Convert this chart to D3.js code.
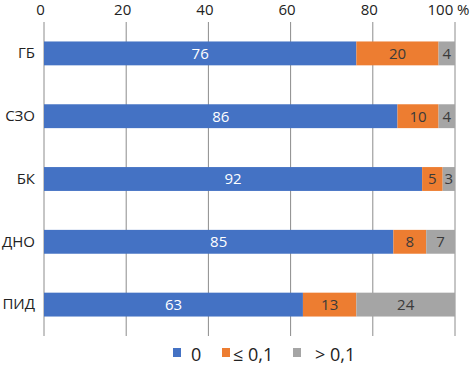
<!DOCTYPE html>
<html>
<head>
<meta charset="utf-8">
<script src="https://cdn.jsdelivr.net/npm/d3@7"></script>
<style>
  body { margin: 0; background: #fff; }
  text { font-family: "Open Sans", "Noto Sans", sans-serif; }
</style>
</head>
<body>
<div id="graf"></div>
<script>
// Datos
const categorias = ["ГБ", "СЗО", "БК", "ДНО", "ПИД"]
const serieCero = [76, 86, 92, 85, 63]
const serieMenor = [20, 10, 5, 8, 13]
const serieMayor = [4, 4, 3, 7, 24]
const series = ["0", "≤ 0,1", "> 0,1"]
const colores = ["#4472C4", "#ED7D31", "#A5A5A5"]
const ticks = [0, 20, 40, 60, 80, 100]

const anchoTotal = 470
const altoTotal = 365
const margins = { top: 22, right: 15, bottom: 29, left: 44 }
const ancho = anchoTotal - margins.left - margins.right
const alto = altoTotal - margins.top - margins.bottom

const svg = d3.select("#graf")
  .append("svg")
  .attr("width", anchoTotal)
  .attr("height", altoTotal)

const g = svg.append("g")
  .attr("transform", `translate(${margins.left}, ${margins.top})`)

// Escaladores
const x = d3.scaleLinear().domain([0, 100]).range([0, ancho])
const y = d3.scaleBand().domain(categorias).range([0, alto]).paddingInner(0.62).paddingOuter(0.31)

// rejilla
g.append("g")
  .selectAll("line")
  .data(ticks)
  .enter()
  .append("line")
  .attr("x1", (d) => x(d))
  .attr("x2", (d) => x(d))
  .attr("y1", 0)
  .attr("y2", alto)
  .attr("stroke", "#8c8c8c")
  .attr("stroke-width", 1)

// eje superior
const xAxis = d3.axisTop(x)
  .tickValues(ticks)
  .tickSize(0)
  .tickPadding(7.5)
  .tickFormat((d) => (d == 100 ? "100 %" : d))
const xAxisGroup = g.append("g").call(xAxis)
xAxisGroup.select(".domain").remove()
xAxisGroup.selectAll("text")
  .attr("font-size", 15)
  .attr("fill", "#222")
  .attr("font-family", "Liberation Sans")
  .attr("dx", (d) => (d == 100 ? -7 : -4))

// eje izquierdo
const yAxisGroup = g.append("g").call(d3.axisLeft(y).tickSize(0).tickPadding(9))
yAxisGroup.select(".domain").remove()
yAxisGroup.selectAll("text")
  .attr("font-size", 15)
  .attr("fill", "#222")
  .attr("font-family", "Open Sans")

// datos apilados
const tabla = categorias.map((c, i) => ({
  cat: c,
  "0": serieCero[i],
  "≤ 0,1": serieMenor[i],
  "> 0,1": serieMayor[i],
}))
const stack = d3.stack().keys(series)(tabla)

const capas = g.selectAll(".capa")
  .data(stack)
  .enter()
  .append("g")
  .attr("class", "capa")
  .attr("fill", (d, i) => colores[i])

capas.selectAll("rect")
  .data((d) => d)
  .enter()
  .append("rect")
  .attr("x", (d) => x(d[0]))
  .attr("y", (d) => y(d.data.cat))
  .attr("width", (d) => x(d[1]) - x(d[0]))
  .attr("height", y.bandwidth())

// etiquetas
const etiquetas = g.append("g")
stack.forEach((s, i) => {
  etiquetas.selectAll(".et" + i)
    .data(s)
    .enter()
    .append("text")
    .attr("class", "et" + i)
    .attr("x", (d) => (x(d[0]) + x(d[1])) / 2)
    .attr("y", (d) => y(d.data.cat) + y.bandwidth() / 2)
    .attr("dy", "0.36em")
    .attr("text-anchor", "middle")
    .attr("font-size", 15)
    .attr("fill", i == 0 ? "#fff" : "#3a3a3a")
    .text((d) => d[1] - d[0])
})

// leyenda
const leyendaX = [173, 222, 293]
const leyendaTexto = [18, 11, 22]
const leyenda = svg.append("g")
  .attr("transform", `translate(0, ${margins.top + alto + 12})`)
series.forEach((s, i) => {
  const item = leyenda.append("g").attr("transform", `translate(${leyendaX[i]}, 0)`)
  item.append("rect")
    .attr("width", 8)
    .attr("height", 9)
    .attr("y", 0)
    .attr("fill", colores[i])
  item.append("text")
    .attr("x", leyendaTexto[i])
    .attr("y", 12.5)
    .attr("font-size", 18)
    .attr("fill", "#222")
    .text(s)
})
</script>
</body>
</html>
